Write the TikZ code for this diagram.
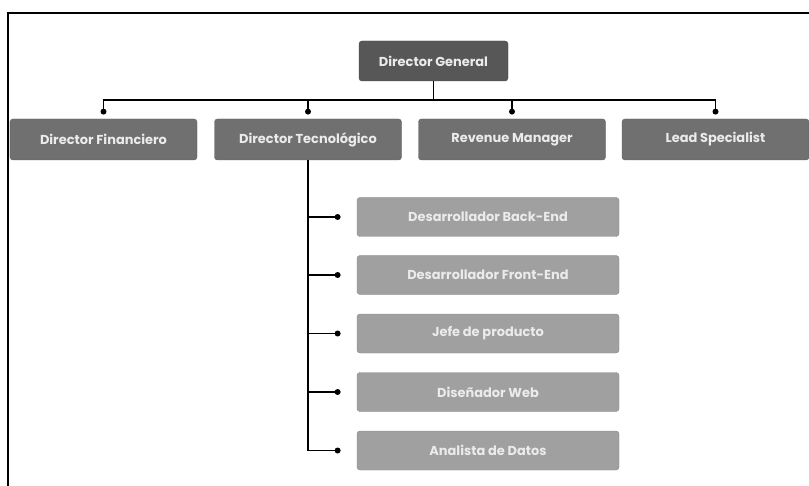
\documentclass[tikz,border=0pt]{standalone}
\usepackage{fontspec}
\setmainfont{Poppins}
\usetikzlibrary{positioning}

\definecolor{topgray}{HTML}{575757}
\definecolor{midgray}{HTML}{707070}
\definecolor{lowgray}{HTML}{A0A0A0}

\tikzset{
  box/.style={rounded corners=3bp, inner sep=0pt, font=\fontsize{13}{15}\selectfont\bfseries, text=white!92!black},
  topbox/.style={box, fill=topgray, draw=topgray!80!black, minimum width=149bp, minimum height=40bp},
  midbox/.style={box, fill=midgray, draw=midgray!85!black, minimum width=187bp, minimum height=41bp},
  lowbox/.style={box, fill=lowgray, draw=lowgray!85!black, minimum width=262bp, minimum height=39bp},
  dot/.style={circle, fill=black, inner sep=0pt, minimum size=6bp},
  link/.style={draw=black, line width=1.4bp}
}

\begin{document}
\begin{tikzpicture}[x=1bp, y=-1bp]
                \useasboundingbox (0,0) rectangle (809,486);
                \draw[line width=1.5bp] (8,486) -- (8,13) -- (809,13);
                % top
                \node[topbox] (dg) at (433.5,61) {Director General};
                % second level
                \node[midbox] (df) at (103.5,139.5) {Director Financiero};
                \node[midbox] (dt) at (308,139.5) {Director Tecnológico};
                \node[midbox] (rm) at (512,139.5) {Revenue Manager};
                \node[midbox] (ls) at (715.5,139.5) {Lead Specialist};
                % third level
                \node[lowbox] (be) at (488,217) {Desarrollador Back-End};
                \node[lowbox] (fe) at (488,275) {Desarrollador Front-End};
                \node[lowbox] (jp) at (488,333.5) {Jefe de producto};
                \node[lowbox] (dw) at (488,392) {Diseñador Web};
                \node[lowbox] (ad) at (488,450.5) {Analista de Datos};
                % dots
                \node[dot, above=4bp of df] (ddf) {};
                \node[dot, above=4bp of dt] (ddt) {};
                \node[dot, above=4bp of rm] (drm) {};
                \node[dot, above=4bp of ls] (dls) {};
                \node[dot, left=16bp of be] (dbe) {};
                \node[dot, left=16bp of fe] (dfe) {};
                \node[dot, left=16bp of jp] (djp) {};
                \node[dot, left=16bp of dw] (ddw) {};
                \node[dot, left=16bp of ad] (dad) {};
                \coordinate (bus) at (0,100);
                % links
                \draw[link] (ddf.center) -- (ddf |- bus) -- (dls |- bus) -- (dls.center);
                \draw[link] (dg.south) -- (dg.south |- bus);
                \draw[link] (ddt.center) -- (ddt |- bus);
                \draw[link] (drm.center) -- (drm |- bus);
                \draw[link] (dt.south) -- (dt.south |- dad) -- (dad.center);
                \draw[link] (dt.south |- dbe) -- (dbe.center);
                \draw[link] (dt.south |- dfe) -- (dfe.center);
                \draw[link] (dt.south |- djp) -- (djp.center);
                \draw[link] (dt.south |- ddw) -- (ddw.center);
            \end{tikzpicture}
\end{document}
